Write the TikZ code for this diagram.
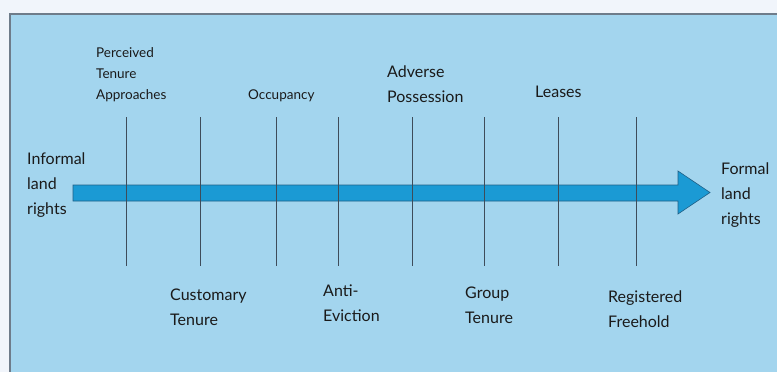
\documentclass[tikz,border=0pt]{standalone}
\usepackage{fontspec}
\setmainfont{Lato}
\definecolor{bgblue}{HTML}{A3D5EE}
\definecolor{pagebg}{HTML}{F1F5FB}
\definecolor{framegray}{HTML}{6E7C8A}
\definecolor{arrowfill}{HTML}{1B9AD4}
\definecolor{arrowedge}{HTML}{1F5F86}
\definecolor{tickcol}{HTML}{3E4C5A}
\definecolor{textcol}{HTML}{1A1A1A}
\begin{document}
\begin{tikzpicture}[x=1pt,y=-1pt,
  lbl/.style={anchor=west,inner sep=0pt,align=left,text=textcol,font=\fontsize{16}{25}\selectfont},
  smalllbl/.style={anchor=west,inner sep=0pt,align=left,text=textcol,font=\fontsize{13.5}{21}\selectfont},
  tick/.style={draw=tickcol,line width=0.8pt}]
\useasboundingbox (0,0) rectangle (777,372);
\fill[pagebg] (0,0) rectangle (777,372);
\fill[bgblue] (10,14) rectangle (780,375);
\draw[framegray,line width=1.2pt] (10,375) -- (10,14) -- (780,14);
% arrow
\draw[fill=arrowfill,draw=arrowedge,line width=0.6pt,line join=miter]
  (73,185) -- (678,185) -- (678,171) -- (710,192.5) -- (678,214) -- (678,201) -- (73,201) -- cycle;
% ticks
\foreach \x/\n in {126/a,200/b,276/c,338/d,412/e,484/f,558/g,636/h}{
  \coordinate (t\n) at (\x,117);
  \coordinate (b\n) at (\x,266);
  \draw[tick] (t\n) -- (b\n);
}
% labels
\node[smalllbl] (perc) at (96,75) {Perceived\\Tenure\\Approaches};
\node[smalllbl] (occ) at (248,96) {Occupancy};
\node[lbl] (adv) at (387,84.5) {Adverse\\Possession};
\node[lbl] (lea) at (535,92) {Leases};
\node[lbl] (inf) at (27,185) {Informal\\land\\rights};
\node[lbl] (for) at (721,195) {Formal\\land\\rights};
\node[lbl] (cus) at (170,307.5) {Customary\\Tenure};
\node[lbl] (anti) at (323,303.5) {Anti-\\Eviction};
\node[lbl] (grp) at (465,305) {Group\\Tenure};
\node[lbl] (reg) at (608,309) {Registered\\Freehold};
\end{tikzpicture}
\end{document}
